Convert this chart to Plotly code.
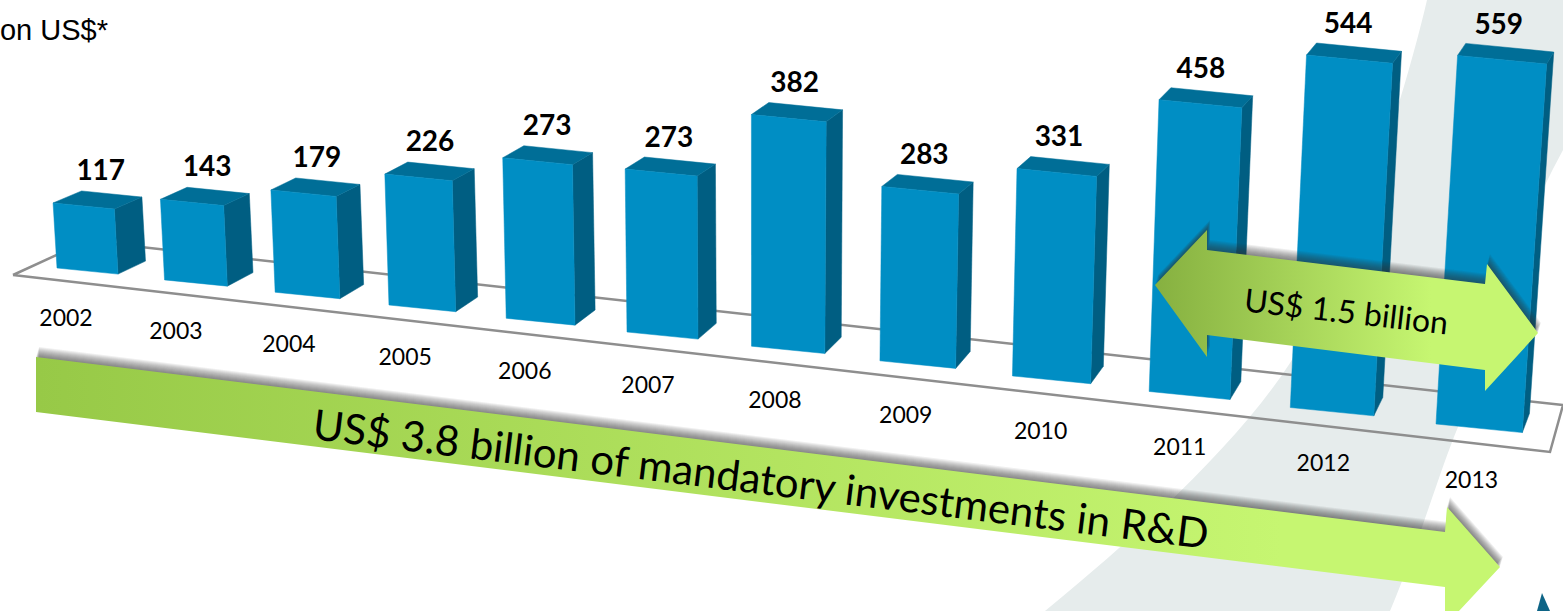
import plotly.graph_objects as go

# ---- data ----
years = [2002, 2003, 2004, 2005, 2006, 2007, 2008, 2009, 2010, 2011, 2012, 2013]
values = [117, 143, 179, 226, 273, 273, 382, 283, 331, 458, 544, 559]
unit_label = "on US$*"
total_label = "US$ 3.8 billion of mandatory investments in R&D"
recent_label = "US$ 1.5 billion"

W, H = 1563, 611
FRONT, SIDE, TOP = "#008EC4", "#005E82", "#006E97"
LABEL_FONT = "Lato"


# ---- perspective projection: (bar index, value) -> picture position ----
def base_left(i):
    x = 57 + 104.53 * i + 1.894 * i * i + 0.028 * i * (i - 5) * (i - 11)
    return x, 268 + 11.65 * i + 0.23 * i * i


def front_width(i):
    return 61 + 1.75 * i + 0.05 * i * i


def height_of(i, v):
    return v * (0.556 + 0.0072 * i + 0.0002 * i * i)


def lean(x):
    return (x - 757) / 11600.0


def depth(i):
    return 27.5 - 1.85 * i, -13 - 0.55 * i


def bar_faces(i, v):
    x, y = base_left(i)
    w = front_width(i)
    h = height_of(i, v)
    dx, dy_bot = depth(i)
    bl = (x, y)
    br = (x + w, y + 0.1 * w)
    tl = (x + lean(x) * h, y - h)
    tr = (br[0] + lean(br[0]) * h, br[1] - h)
    top_back_r = (tr[0] + dx, tr[1] - 12)
    top_back_l = (tl[0] + dx + 1, tl[1] - 12)
    bot_back_r = (br[0] + dx, br[1] + dy_bot)
    return dict(
        front=[bl, br, tr, tl],
        side=[br, tr, top_back_r, bot_back_r],
        top=[tl, tr, top_back_r, top_back_l],
        label=((top_back_l[0] + top_back_r[0]) / 2 - 11, (top_back_l[1] + top_back_r[1]) / 2 - 21),
    )


def poly(points, color):
    xs = [p[0] for p in points] + [points[0][0]]
    ys = [p[1] for p in points] + [points[0][1]]
    return go.Scatter(x=xs, y=ys, mode="lines", fill="toself", fillcolor=color,
                      line=dict(color=color, width=0.5), hoverinfo="skip", showlegend=False)


def arrow_outline(kind):
    if kind == "total":
        return [(36, 357), (1445, 532), (1447, 507), (1500, 567), (1445, 626), (1445, 587), (36, 412)]
    return [(1155, 285), (1207, 230), (1207, 250), (1485, 284), (1487, 264), (1538, 333),
            (1485, 391), (1485, 370), (1207, 335), (1207, 357)]


def add_arrow(fig, points, c0, c1, full_at):
    xs = [p[0] for p in points] + [points[0][0]]
    ys = [p[1] for p in points] + [points[0][1]]
    # soft shadow thrown upward: stacked offset copies that fade out away from the edge
    for k in range(1, 11):
        fig.add_trace(go.Scatter(x=[x + 0.3 * k for x in xs], y=[y - k for y in ys], mode="lines",
                                 fill="toself", fillcolor="rgba(50,50,50,0.08)",
                                 line=dict(width=0, color="rgba(0,0,0,0)"),
                                 hoverinfo="skip", showlegend=False))
    fig.add_trace(go.Scatter(x=xs, y=ys, mode="lines", fill="toself",
                             line=dict(width=0, color=c1),
                             fillgradient=dict(type="horizontal",
                                               colorscale=[[0, c0], [full_at, c1], [1, c1]]),
                             hoverinfo="skip", showlegend=False))


fig = go.Figure()

# floor outline
floor = [(13, 275), (87, 241), (1563, 405), (1550, 452), (13, 275)]
fig.add_trace(go.Scatter(x=[p[0] for p in floor], y=[p[1] for p in floor], mode="lines",
                         line=dict(color="#8E8E8E", width=2.5), hoverinfo="skip", showlegend=False))

# bars
faces = [bar_faces(i, v) for i, v in enumerate(values)]
for f in faces:
    fig.add_trace(poly(f["side"], SIDE))
    fig.add_trace(poly(f["top"], TOP))
    fig.add_trace(poly(f["front"], FRONT))

# value labels
fig.add_trace(go.Scatter(x=[f["label"][0] for f in faces], y=[f["label"][1] for f in faces],
                         mode="text", text=[str(v) for v in values], textposition="middle center",
                         textfont=dict(family=LABEL_FONT, size=28, color="black", weight="bold"),
                         hoverinfo="skip", showlegend=False))

# year labels
year_x = [base_left(i)[0] + 9 + 2.4 * i for i in range(len(years))]
year_y = [base_left(i)[1] + 52.5 + 0.55 * i for i in range(len(years))]
fig.add_trace(go.Scatter(x=year_x, y=year_y, mode="text", text=[str(y) for y in years],
                         textposition="middle center",
                         textfont=dict(family=LABEL_FONT, size=23, color="black"),
                         hoverinfo="skip", showlegend=False))

# arrows
add_arrow(fig, arrow_outline("total"), "#97C947", "#C6F671", 0.85)
add_arrow(fig, arrow_outline("recent"), "#86B040", "#C6F671", 0.72)

# unit label
fig.add_trace(go.Scatter(x=[108], y=[33], mode="text", text=[unit_label], textposition="middle left",
                         textfont=dict(family="Liberation Sans", size=29, color="black"),
                         hoverinfo="skip", showlegend=False))

fig.update_layout(
    width=W, height=H, margin=dict(l=0, r=0, t=0, b=0),
    paper_bgcolor="white", plot_bgcolor="white", showlegend=False,
    xaxis=dict(range=[0, W], visible=False, fixedrange=True),
    yaxis=dict(range=[H, 0], visible=False, fixedrange=True),
    shapes=[
        dict(type="path", xref="x", yref="y", layer="below", line=dict(width=0), fillcolor="#E6ECEC",
             path="M 1427 0 C 1405 95 1350 270 1290 363 C 1240 440 1150 525 1045 611 L 1390 611 "
                  "C 1420 540 1440 470 1458 427 C 1480 330 1520 230 1563 150 L 1563 0 Z"),
        dict(type="path", xref="x", yref="y", layer="below", line=dict(width=0), fillcolor="#0E6486",
             path="M 1542 593 L 1537 611 L 1550 611 Z"),
    ],
    annotations=[
        dict(x=761, y=478, xref="x", yref="y", text=total_label, showarrow=False, textangle=7,
             font=dict(family=LABEL_FONT, size=42, color="black")),
        dict(x=1346, y=310, xref="x", yref="y", text=recent_label, showarrow=False, textangle=6.5,
             font=dict(family=LABEL_FONT, size=32, color="black")),
    ],
)

fig.write_html("out.html", config=dict(displayModeBar=False),
               post_script="document.body.style.margin='0';")
